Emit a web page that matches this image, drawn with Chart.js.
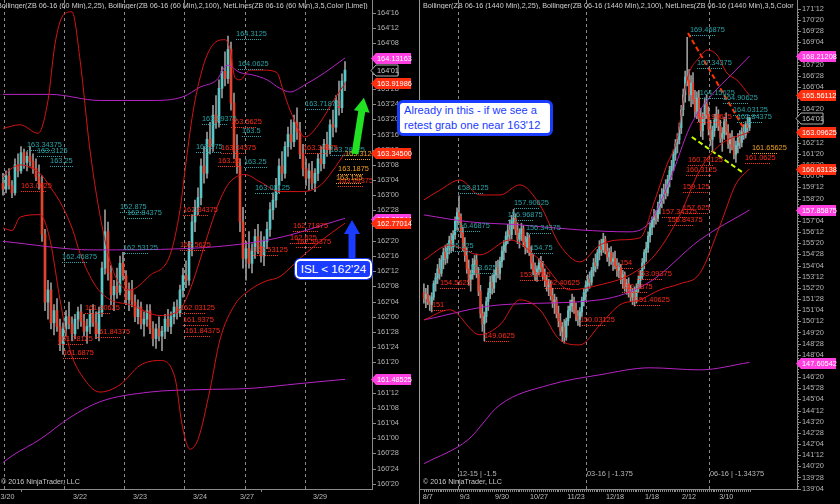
<!DOCTYPE html>
<html>
<head>
<meta charset="utf-8">
<script src="https://cdn.jsdelivr.net/npm/chart.js@4.4.1/dist/chart.umd.min.js"></script>
<style>
  html, body { margin: 0; padding: 0; background: #000; }
  body { width: 840px; height: 504px; position: relative; overflow: hidden; font-family: 'Liberation Sans', Arial, sans-serif; }
  canvas { position: absolute; top: 0; }
  #leftChart { left: 0; }
  #rightChart { left: 420px; }
  .txt { position: absolute; white-space: nowrap; color: #c8c8c8; line-height: 1; }
  .clip { position: absolute; overflow: hidden; white-space: nowrap; color: #d0d0d0; line-height: 1; }
  #sep { position: absolute; left: 419px; top: 0; width: 1px; height: 504px; background: #9a9a9a; }
  #note1 { position: absolute; left: 397px; top: 100px; width: 146px; height: 30px; border: 3px solid #1a3cff; border-radius: 6px; background: #fff; color: #1a3cff; padding: 0 0 0 4px; line-height: 15px; white-space: nowrap; z-index: 5; }
  #note2 { position: absolute; left: 295px; top: 259px; width: 73px; height: 16px; border: 2px solid #fff; outline: 1px solid #1a3cff; border-radius: 5px; background: #1a3cff; color: #fff; text-align: center; line-height: 16px; white-space: nowrap; z-index: 5; }
  svg { position: absolute; left: 0; top: 0; z-index: 4; }
</style>
</head>
<body>
<canvas id="leftChart" width="419" height="504"></canvas>
<canvas id="rightChart" width="420" height="504"></canvas>
<div id="sep"></div>
<div class="clip" id="hdrL" style="left:-3px; top:2px; width:375px;">Bollinger(ZB 06-16 (60 Min),2,25), Bollinger(ZB 06-16 (60 Min),2,100), NetLines(ZB 06-16 (60 Min),3,5,Color [Lime])</div>
<div class="clip" id="hdrR" style="left:423px; top:2px; width:373px;">Bollinger(ZB 06-16 (1440 Min),2,25), Bollinger(ZB 06-16 (1440 Min),2,100), NetLines(ZB 06-16 (1440 Min),3,5,Color [Lime])</div>
<div class="txt copy" style="left:1px; top:479px;">© 2016 NinjaTrader, LLC</div>
<div class="txt copy" style="left:423px; top:479px;">© 2016 NinjaTrader, LLC</div>
<div class="txt roll" style="left:459px; top:470px;">12-15 | -1.5</div>
<div class="txt roll" style="left:587px; top:470px;">03-16 | -1.375</div>
<div class="txt roll" style="left:710px; top:470px;">06-16 | -1.34375</div>
<svg width="840" height="504">
  <g transform="translate(355,154) rotate(9)">
    <rect x="-3.5" y="-44" width="7" height="44" fill="#22e022"/>
    <polygon points="-8,-43 8,-43 0,-57" fill="#22e022"/>
  </g>
  <g transform="translate(352,260)">
    <rect x="-3.5" y="-27" width="7" height="27" fill="#1a3cff"/>
    <polygon points="-8,-26 8,-26 0,-40" fill="#1a3cff"/>
  </g>
</svg>
<div id="note1">Already in this - if we see a<br>retest grab one near 163'12</div>
<div id="note2">ISL &lt; 162'24</div>
<script>
// ZB 06-16, 60 min bars (left) : [open, high, low, close]
const leftOHLC = [
  [163.10,163.18,163.00,163.05],[163.05,163.20,163.02,163.16],[163.16,163.22,163.05,163.08],[163.08,163.12,162.98,163.02],
  [163.02,163.30,163.00,163.25],[163.25,163.34,163.15,163.20],[163.20,163.40,163.18,163.35],[163.35,163.38,163.22,163.27],
  [163.27,163.36,163.20,163.32],[163.32,163.40,163.24,163.28],[163.28,163.34,163.18,163.22],[163.22,163.30,163.12,163.15],
  [163.15,163.25,163.05,163.10],[163.10,163.16,162.62,162.68],[162.68,162.72,162.05,162.12],[162.12,162.30,161.98,162.22],
  [162.22,162.28,161.90,161.95],[161.95,162.10,161.85,162.05],[162.05,162.15,161.88,161.92],[161.92,161.98,161.72,161.78],
  [161.78,161.95,161.69,161.90],[161.90,162.05,161.84,162.00],[162.00,162.12,161.90,161.94],[161.94,162.00,161.80,161.86],
  [161.86,162.02,161.82,161.98],[161.98,162.08,161.90,162.04],[162.04,162.10,161.92,161.96],[161.96,162.02,161.84,161.88],
  [161.88,161.98,161.78,161.92],[161.92,162.06,161.86,162.02],[162.02,162.10,161.92,161.95],[161.95,162.04,161.82,161.86],
  [161.86,162.08,161.80,162.04],[162.04,162.45,162.00,162.40],[162.40,162.88,162.35,162.70],[162.70,162.78,162.30,162.36],
  [162.36,162.42,162.10,162.18],[162.18,162.30,162.05,162.25],[162.25,162.40,162.15,162.20],[162.20,162.50,162.18,162.44],
  [162.44,162.53,162.30,162.34],[162.34,162.38,162.10,162.14],[162.14,162.28,162.05,162.22],[162.22,162.30,162.08,162.12],
  [162.12,162.18,161.96,162.00],[162.00,162.14,161.94,162.08],[162.08,162.12,161.90,161.94],[161.94,162.04,161.84,161.98],
  [161.98,162.10,161.92,162.05],[162.05,162.10,161.86,161.90],[161.90,161.96,161.76,161.82],[161.82,161.94,161.74,161.90],
  [161.90,162.00,161.80,161.84],[161.84,161.92,161.72,161.88],[161.88,162.02,161.82,161.98],[161.98,162.06,161.88,161.92],
  [161.92,162.04,161.86,162.00],[162.00,162.12,161.94,162.08],[162.08,162.14,161.98,162.03],[162.03,162.26,162.00,162.22],
  [162.22,162.40,162.16,162.34],[162.34,162.46,162.24,162.30],[162.30,162.62,162.26,162.56],[162.56,162.84,162.50,162.78],
  [162.78,162.96,162.70,162.90],[162.90,163.06,162.84,162.98],[162.98,163.30,162.92,163.24],[163.24,163.40,163.10,163.18],
  [163.18,163.52,163.14,163.46],[163.46,163.60,163.34,163.40],[163.40,163.74,163.36,163.66],[163.66,163.82,163.55,163.60],
  [163.60,163.95,163.56,163.88],[163.88,164.06,163.80,164.02],[164.02,164.18,163.90,163.96],[163.96,164.31,163.92,164.20],
  [164.20,164.26,163.70,163.76],[163.76,163.84,163.30,163.36],[163.36,163.50,163.18,163.24],[163.24,163.30,162.70,162.78],
  [162.78,162.90,162.40,162.48],[162.48,162.62,162.30,162.56],[162.56,162.70,162.40,162.44],[162.44,162.60,162.36,162.54],
  [162.54,162.72,162.48,162.66],[162.66,162.76,162.52,162.58],[162.58,162.70,162.45,162.50],[162.50,162.66,162.42,162.62],
  [162.62,162.78,162.56,162.72],[162.72,162.94,162.66,162.88],[162.88,163.02,162.80,162.96],[162.96,163.14,162.90,163.08],
  [163.08,163.30,163.02,163.24],[163.24,163.36,163.12,163.18],[163.18,163.44,163.14,163.40],[163.40,163.56,163.32,163.50],
  [163.50,163.62,163.38,163.44],[163.44,163.66,163.40,163.60],[163.60,163.72,163.46,163.52],[163.52,163.60,163.30,163.34],
  [163.34,163.42,163.16,163.22],[163.22,163.30,163.08,163.14],[163.14,163.26,163.04,163.20],[163.20,163.28,163.05,163.10],
  [163.10,163.22,163.03,163.18],[163.18,163.34,163.12,163.30],[163.30,163.40,163.20,163.26],[163.26,163.46,163.22,163.42],
  [163.42,163.52,163.32,163.38],[163.38,163.62,163.34,163.58],[163.58,163.70,163.48,163.56],[163.56,163.82,163.52,163.78],
  [163.78,163.94,163.66,163.72],[163.72,164.00,163.68,163.94],[163.94,164.10,163.86,164.03]
];

// ZB 06-16, daily bars (right) : [open, high, low, close]
const rightOHLC = [
  [152.3,152.9,151.6,151.9],[151.9,152.6,151.3,152.2],[152.2,152.8,151.5,151.7],[151.7,152.1,151.1,151.5],
  [151.5,152.3,151.0,152.0],[152.0,153.1,151.8,152.9],[152.9,153.6,152.4,153.3],[153.3,154.2,152.9,153.9],
  [153.9,154.6,153.2,153.6],[153.6,154.8,153.4,154.5],[154.5,155.3,153.9,155.0],[155.0,155.5,154.2,154.6],
  [154.6,155.6,154.3,155.3],[155.3,156.1,154.9,155.8],[155.8,156.3,155.0,155.4],[155.4,156.47,155.1,156.2],
  [156.2,157.4,155.9,157.1],[157.1,158.0,156.5,157.7],[157.7,158.81,157.0,157.4],[157.4,157.6,156.0,156.3],
  [156.3,156.7,155.1,155.4],[155.4,156.0,154.4,154.8],[154.8,155.3,153.6,153.9],[153.9,154.5,152.8,153.2],
  [153.2,153.8,152.4,153.5],[153.5,154.6,153.2,154.2],[154.2,154.8,153.5,154.5],[154.5,154.9,153.3,153.6],
  [153.6,154.0,152.1,152.4],[152.4,152.8,150.6,150.9],[150.9,151.5,149.7,150.2],[150.2,151.0,149.06,150.7],
  [150.7,152.0,150.3,151.7],[151.7,152.6,151.1,152.3],[152.3,153.4,151.9,153.0],[153.0,153.5,152.2,152.6],
  [152.6,153.8,152.3,153.5],[153.5,154.4,153.0,154.0],[154.0,154.5,153.3,153.6],[153.6,154.7,153.2,154.4],
  [154.4,155.4,154.0,155.1],[155.1,155.8,154.5,155.5],[155.5,156.4,155.0,156.1],[156.1,156.9,155.6,156.5],
  [156.5,157.2,155.8,156.2],[156.2,157.5,155.9,157.1],[157.1,157.9,156.6,157.3],[157.3,157.6,156.2,156.5],
  [156.5,157.0,155.6,155.9],[155.9,156.6,155.3,156.3],[156.3,156.97,155.8,156.6],[156.6,156.8,155.4,155.7],
  [155.7,156.1,154.9,155.3],[155.3,156.34,155.0,156.0],[156.0,156.2,154.8,155.0],[155.0,155.4,153.9,154.3],
  [154.3,154.9,153.5,153.8],[153.8,154.3,153.1,153.6],[153.6,154.1,153.06,153.9],[153.9,154.6,153.5,154.3],
  [154.3,154.75,153.7,154.0],[154.0,154.4,153.2,153.4],[153.4,153.9,152.7,153.1],[153.1,153.5,152.4,152.7],
  [152.7,153.2,152.1,152.9],[152.9,153.1,151.8,152.1],[152.1,152.6,151.3,151.6],[151.6,152.2,150.9,151.8],
  [151.8,152.0,150.6,150.9],[150.9,151.4,150.0,150.4],[150.4,150.9,149.4,149.7],[149.7,150.3,149.0,150.0],
  [150.0,150.5,148.9,149.3],[149.3,150.6,149.1,150.4],[150.4,151.4,150.1,151.1],[151.1,151.8,150.6,151.4],
  [151.4,152.2,151.0,151.8],[151.8,152.0,150.9,151.2],[151.2,151.6,150.4,150.7],[150.7,151.1,150.1,150.5],
  [150.5,151.3,150.03,151.0],[151.0,152.0,150.7,151.8],[151.8,152.6,151.4,152.3],[152.3,153.1,151.8,152.8],
  [152.8,153.5,152.4,153.2],[153.2,153.7,152.6,153.0],[153.0,154.0,152.8,153.8],[153.8,154.6,153.4,154.3],
  [154.3,154.9,153.7,154.1],[154.1,155.2,153.9,155.0],[155.0,155.8,154.5,155.4],[155.4,155.9,154.8,155.2],
  [155.2,156.3,155.0,155.9],[155.9,156.1,154.9,155.1],[155.1,155.6,154.4,154.7],[154.7,155.3,154.1,155.0],
  [155.0,155.4,154.2,154.4],[154.4,155.0,153.8,154.6],[154.6,155.1,153.9,154.1],[154.1,154.6,153.4,153.8],
  [153.8,154.3,153.3,154.0],[154.0,154.2,152.9,153.2],[153.2,153.8,152.6,153.5],[153.5,153.7,152.4,152.7],
  [152.7,153.2,152.19,152.9],[152.9,153.3,152.0,152.3],[152.3,152.8,151.7,152.0],[152.0,152.6,151.5,152.4],
  [152.4,152.7,151.41,151.8],[151.8,152.9,151.6,152.6],[152.6,153.4,152.3,153.1],[153.1,153.8,152.6,153.4],
  [153.4,154.6,153.2,154.3],[154.3,155.2,153.9,155.0],[155.0,155.7,154.4,155.3],[155.3,156.4,155.0,156.1],
  [156.1,157.0,155.7,156.7],[156.7,157.4,156.2,157.2],[157.2,157.9,156.7,157.5],[157.5,157.8,156.9,157.3],
  [157.3,158.4,157.1,158.1],[158.1,158.9,157.6,158.5],[158.5,159.3,158.0,158.9],[158.9,159.6,158.3,159.2],
  [159.2,159.9,158.6,159.0],[159.0,160.2,158.8,159.9],[159.9,160.8,159.4,160.5],[160.5,161.2,159.9,160.8],
  [160.8,161.9,160.5,161.6],[161.6,162.6,161.2,162.3],[162.3,163.0,161.7,162.6],[162.6,163.7,162.3,163.4],
  [163.4,164.9,163.0,164.6],[164.6,166.0,164.2,165.6],[165.6,167.2,165.1,166.8],[166.8,169.47,166.2,166.6],
  [166.6,167.3,165.2,165.6],[165.6,166.9,164.8,166.4],[166.4,167.1,165.0,165.3],[165.3,165.9,164.1,164.5],
  [164.5,165.8,164.0,165.4],[165.4,165.9,163.8,164.1],[164.1,164.7,162.8,163.2],[163.2,164.4,162.6,164.0],
  [164.0,165.4,163.6,165.0],[165.0,165.6,164.0,164.3],[164.3,164.8,162.9,163.3],[163.3,163.9,162.2,162.6],
  [162.6,163.5,161.9,163.2],[163.2,164.3,162.8,163.9],[163.9,164.8,163.4,164.3],[164.3,164.6,163.2,163.5],
  [163.5,163.9,162.4,162.7],[162.7,163.4,161.8,163.0],[163.0,164.1,162.6,163.8],[163.8,164.4,162.9,163.1],
  [163.1,163.6,162.0,162.3],[162.3,163.0,161.7,162.6],[162.6,163.2,161.9,162.1],[162.1,162.8,161.3,161.6],
  [161.6,162.5,161.06,162.2],[162.2,163.0,161.7,162.7],[162.7,163.2,162.0,162.4],[162.4,163.4,162.1,163.1],
  [163.1,163.6,162.6,162.9],[162.9,163.8,162.7,163.6],[163.6,164.1,163.1,163.4],[163.4,164.1,163.2,164.03]
];

// Bollinger bands as [bar index, price]
const leftBB25Upper = [[0,163.55],[5.7,163.58],[11.7,163.51],[15,163.78],[17.3,164.24],[20,164.48],[23,164.51],[25.7,164.11],[29,163.37],[33.3,162.71],[37.3,162.34],[42.3,162.22],[49,162.34],[55.7,162.51],[59,162.88],[60.7,163.21],[63.3,163.68],[66.7,164.06],[70,164.24],[74,164.28],[75.7,164.2],[77.3,163.97],[79,163.95],[82.3,164.03],[86.7,164.03],[91.3,164.01],[93.3,163.87],[95.7,163.7],[100.7,163.48],[105.7,163.6],[110.7,163.8],[114,163.92]];
const leftBB25Mid = [[0,163.15],[2.3,163.21],[5.7,163.25],[9,163.23],[12.3,163.18],[15.7,163.07],[20,162.90],[23.3,162.71],[25.7,162.52],[30.7,162.26],[35.7,162.14],[42.3,162.10],[52.3,162.01],[59,162.06],[62.3,162.22],[65.7,162.47],[69,162.73],[72.3,162.96],[75.7,163.11],[80.7,163.17],[85.7,163.11],[92.3,163.03],[99,163.03],[105.7,163.08],[114,163.345]];
const leftBB25Lower = [[0,162.73],[3,162.71],[5.7,162.82],[12.3,162.84],[15.7,162.63],[19,162.14],[22.3,161.73],[27.3,161.48],[32.3,161.38],[39,161.44],[45.7,161.60],[52.3,161.64],[57.3,161.50],[59.7,161.11],[62.3,160.91],[65,160.99],[69,161.40],[72.3,161.81],[77.3,162.10],[82.3,162.22],[87.3,162.29],[92.3,162.33],[99,162.48],[105.7,162.62],[114,162.77]];
const leftBB100Upper = [[0,163.83],[15.7,163.83],[32.3,163.78],[49,163.78],[60,163.81],[65.7,163.89],[71.3,163.95],[74.7,164.07],[79,164.01],[83.3,163.99],[88,163.95],[92.3,163.88],[95.7,163.85],[100.7,163.91],[107.3,164.01],[114,164.13]];
const leftBB100Mid = [[0,162.62],[30,162.55],[60,162.56],[90,162.64],[114,162.81]];
const leftBB100Lower = [[0,160.80],[3.3,160.86],[12.3,160.99],[22.3,161.17],[32.3,161.30],[49,161.38],[65.7,161.40],[82.3,161.41],[99,161.45],[114,161.485]];

const rightBB25Upper = [[0,158.54],[8.2,159.2],[18.5,159.88],[28.7,158.87],[39,158.87],[49.2,159.55],[59.5,158.2],[69.7,155.51],[80,154.37],[90.3,155.51],[100.5,155.85],[110.8,155.99],[118.5,158.54],[124.6,160.89],[129.7,162.57],[134.9,166.6],[141.5,168.15],[145.6,168.62],[150.3,168.28],[155.4,167.07],[160.5,166.6],[167,165.56]];
const rightBB25Mid = [[0,154.5],[13.3,155.51],[28.7,154.84],[44.1,155.85],[59.5,154.5],[74.9,152.49],[90.3,152.83],[105.6,153.5],[118.5,154.84],[131.3,157.53],[141.5,160.55],[151.8,162.24],[167,163.1]];
const rightBB25Lower = [[0,150.47],[13.3,151.15],[28.7,149.47],[39,150.14],[49.2,151.82],[59.5,151.15],[69.7,149.13],[80,148.79],[90.3,150.14],[100.5,151.48],[110.8,151.82],[121,152.49],[131.3,152.9],[141.5,153.6],[151.8,156.8],[160,159.6],[167,160.63]];
const rightBB100Upper = [[0,157.53],[23.6,157.06],[49.2,156.86],[80,156.52],[105.6,156.39],[115.9,157.06],[126.2,159.88],[136.4,163.44],[146.7,165.46],[158.5,167.07],[167,168.21]];
const rightBB100Mid = [[0,150.47],[39,151.48],[90.3,151.82],[115.9,153.03],[141.5,155.85],[167,157.86]];
const rightBB100Lower = [[0,140.8],[22.6,142.41],[39,144.76],[64.6,146.11],[90.3,146.78],[115.9,147.25],[141.5,147.11],[167,147.61]];

// NetLines (right panel)
const rightNetRed = [[135.4,169.76],[163.6,163.45]];
const rightNetLime = [[137.4,162.77],[163.1,160.42]];

// axes
const leftDateTicks = [1.5, 25.7, 45.7, 65.7, 81.3, 105.7];
const leftDateLabels = ['3/20', '3/22', '3/23', '3/24', '3/27', '3/29'];
const leftSessions = [0.33, 20.3, 40.3, 60.3, 80.7, 100.7];
const rightDateTicks = [2, 21, 40, 59, 78, 98, 117, 136, 155];
const rightDateLabels = ['8/7', '9/3', '9/30', '10/27', '11/23', '12/18', '1/18', '2/12', '3/10'];
const rightSessions = [17.4, 83.1, 146.2];
const leftPriceLabels = ["164'16","164'12","164'08","164'04","164'00","163'28","163'24","163'20","163'16","163'12","163'08","163'04","163'00","162'28","162'24","162'20","162'16","162'12","162'08","162'04","162'00","161'28","161'24","161'20","161'16","161'12","161'08","161'04","161'00","160'28","160'24","160'20"];
const rightPriceLabels = ["171'12","170'20","169'28","169'04","168'12","167'20","166'28","166'04","165'12","164'20","163'28","163'04","162'12","161'20","160'28","160'04","159'12","158'20","157'28","157'04","156'12","155'20","154'28","154'04","153'12","152'20","151'28","151'04","150'12","149'20","148'28","148'04","147'12","146'20","145'28","145'04","144'12","143'20","142'28","142'04","141'12","140'20","139'28","139'04"];

// price markers on the axis: [value, text, kind]
const leftTags = [[164.13163,'164.13163','pink'],[164.03125,"164'01",'last'],[163.91986,'163.91986','red'],[163.345,'163.34500','red'],[162.80844,'162.80844','pink'],[162.77014,'162.77014','red'],[161.48525,'161.48525','pink']];
const rightTags = [[168.21208,'168.21208','pink'],[165.56112,'165.56112','red'],[164.03125,"164'01",'last'],[163.09625,'163.09625','red'],[160.63138,'160.63138','red'],[157.85875,'157.85875','pink'],[147.60542,'147.60542','pink']];

// swing labels: [bar index, price, text, colour]
const leftSwings = [
  [8,163.40,'163.34375','t'],[11.3,163.35,'163.3125','t'],[15.7,163.265,'163.25','t'],[77.7,164.31,'164.3125','t'],
  [78.3,164.064,'164.0625','t'],[66.3,163.61,'163.59375','t'],[79.7,163.51,'163.5','t'],[64.3,163.38,'163.375','t'],
  [80.3,163.257,'163.25','t'],[84,163.04,'163.03125','t'],[100.7,163.735,'163.71875','t'],[39,162.887,'162.875','t'],
  [41.3,162.84,'162.84375','t'],[40,162.55,'162.53125','t'],[19.7,162.475,'162.46875','t'],[109,163.356,'163.28125','t'],
  [6,163.06,'163.0625','r'],[76,163.586,'163.5625','r'],[72.7,163.37,'163.34375','r'],[71.7,163.265,'163.25','r'],
  [60,162.86,'162.84375','r'],[59,162.574,'162.5625','r'],[100,163.37,'163.34375','r'],[96.7,162.73,'162.71875','r'],
  [95.7,162.63,'162.625','r'],[97.7,162.60,'162.59375','r'],[83.3,162.53,'162.53125','r'],[59,162.056,'162.03125','r'],
  [60,161.957,'161.9375','r'],[60.7,161.866,'161.84375','r'],[27.3,162.056,'161.90625','r'],[30.7,161.858,'161.84375','r'],
  [18.3,161.80,'161.78125','r'],[20,161.685,'161.6875','r'],[111.7,163.10,'163.09375','r'],
  [114,163.323,'163.3125','o'],[111.7,163.20,'163.1875','o'],[111,163.126,'163.125','o']
];
const rightSwings = [
  [136.4,169.83,'169.46875','t'],[140,167.61,'167.34375','t'],[141.5,165.6,'164.15625','t'],[153.3,165.26,'164.90625','t'],
  [158.5,164.45,'164.03125','t'],[160.5,164.0,'163.84375','t'],[17.4,159.21,'158.8125','t'],[46.2,158.2,'157.90625','t'],
  [43,157.4,'156.96875','t'],[15.9,156.66,'156.46875','t'],[52.3,156.52,'156.34375','t'],[11.8,155.31,'155.125','t'],
  [54.4,155.18,'154.75','t'],[23.6,153.83,'153.625','t'],
  [164.6,161.23,'161.0625','r'],[135.4,161.09,'160.78125','r'],[134.4,160.42,'160.3125','r'],[132.8,159.28,'159.125','r'],
  [132.8,157.87,'157.625','r'],[122,157.6,'157.34375','r'],[125,157.06,'156.84375','r'],[140,163.98,'163.90625','r'],
  [8.2,152.8,'154.5625','r'],[4.1,151.35,'151','r'],[30.8,149.26,'149.0625','r'],[62,152.83,'152.40625','r'],
  [80,150.34,'150.03125','r'],[100.5,154.17,'154','r'],[109.2,153.43,'153.09375','r'],[101.5,152.56,'152.1875','r'],
  [108.2,151.68,'151.40625','r'],[49.2,153.36,'153.0625','r'],
  [168.2,161.9,'161.65625','o']
];

const FONT = "'Liberation Sans', Arial, sans-serif";
const UP = '#5cc6c6', DOWN = '#e2452f', WICK = '#9a9a9a';
const RED = '#d41414', MAGENTA = '#b524c4';
const SWING = { t: '#2aa3a6', r: '#ff2a18', o: '#f0a020' };
const TAG = { pink: '#ff3fe0', red: '#ff2e0e' };
const AXIS = '#8a8a8a';

const fromTick = s => { const [a, b] = s.split("'"); return +a + (+b) / 32; };

function overlay(o) {
  return {
    id: 'overlay',
    beforeDatasetsDraw(chart) {
      const { ctx, chartArea: a, scales: { x } } = chart;
      ctx.save();
      ctx.strokeStyle = AXIS;
      ctx.lineWidth = 1;
      ctx.setLineDash([3, 3]);
      o.sessions.forEach(v => {
        const px = Math.round(x.getPixelForValue(v)) + 0.5;
        ctx.beginPath(); ctx.moveTo(px, a.top); ctx.lineTo(px, a.bottom); ctx.stroke();
      });
      ctx.restore();
    },
    afterDatasetsDraw(chart) {
      const { ctx, chartArea: a, scales: { x, y } } = chart;
      ctx.save();
      ctx.beginPath(); ctx.rect(a.left, a.top, a.right - a.left, a.bottom - a.top); ctx.clip();
      ctx.font = '7.4px ' + FONT;
      ctx.textBaseline = 'alphabetic';
      o.swings.forEach(s => {
        const px = x.getPixelForValue(s[0]), py = y.getPixelForValue(s[1]);
        ctx.fillStyle = SWING[s[3]];
        ctx.fillText(s[2], px, py);
        const w = Math.min(ctx.measureText(s[2]).width, 26);
        for (let k = 0; k < w; k += 2) ctx.fillRect(Math.round(px + k), Math.round(py + 3), 1, 1);
      });
      ctx.restore();
    },
    afterDraw(chart) {
      const { ctx, chartArea: a, scales: { x, y } } = chart;
      ctx.save();
      // tick marks on both axes
      ctx.fillStyle = AXIS;
      o.xMarks().forEach(v => ctx.fillRect(Math.round(x.getPixelForValue(v)), a.bottom, 1, 3));
      o.yTicks().forEach(v => {
        const py = Math.round(y.getPixelForValue(v));
        const major = o.priceSet.has(v.toFixed(4));
        ctx.fillRect(a.right, py, major ? 4 : 2, 1);
      });
      ctx.font = '7.4px ' + FONT;
      ctx.textBaseline = 'middle';
      o.tags.forEach(t => {
        const py = Math.round(y.getPixelForValue(t[0])) + 0.5;
        const x0 = a.right - 1, h = 11;
        const w = t[2] === 'last' ? 27 : o.tagW;
        ctx.beginPath();
        ctx.moveTo(x0, py);
        ctx.lineTo(x0 + 5, py - h / 2);
        ctx.lineTo(x0 + w, py - h / 2);
        ctx.lineTo(x0 + w, py + h / 2);
        ctx.lineTo(x0 + 5, py + h / 2);
        ctx.closePath();
        if (t[2] === 'last') {
          ctx.fillStyle = '#000'; ctx.fill();
          ctx.strokeStyle = '#b0b0b0'; ctx.lineWidth = 1; ctx.stroke();
          ctx.fillStyle = '#c8c8c8';
        } else {
          ctx.fillStyle = TAG[t[2]]; ctx.fill();
          ctx.fillStyle = '#fff';
        }
        ctx.fillText(t[1], x0 + 6, py + 0.5);
      });
      ctx.restore();
    }
  };
}

function candleChart(id, o) {
  const wicks = o.ohlc.map((c, i) => ({ x: i, y: [c[2], c[1]] }));
  const bodies = o.ohlc.map((c, i) => ({ x: i, y: [c[0], c[3]] }));
  const bodyColors = o.ohlc.map(c => (c[3] >= c[0] ? UP : DOWN));
  const line = (pts, color, extra) => Object.assign({
    type: 'line', data: pts.map(p => ({ x: p[0], y: p[1] })),
    borderColor: color, borderWidth: 1, pointRadius: 0,
    cubicInterpolationMode: 'monotone', order: 0
  }, extra || {});

  const datasets = o.bands.map(b => line(b[0], b[1]));
  o.netLines.forEach(n => datasets.push(line(n[0], n[1], { borderWidth: 2, borderDash: [5, 3] })));
  datasets.push({ type: 'bar', data: bodies, backgroundColor: bodyColors, barThickness: o.bodyW, grouped: false, minBarLength: 1, order: 1 });
  datasets.push({ type: 'bar', data: wicks, backgroundColor: WICK, barThickness: 1, grouped: false, order: 2 });

  const dateMap = new Map(o.dateTicks.map((v, i) => [v, o.dateLabels[i]]));
  const priceMap = new Map(o.priceLabels.map(s => [fromTick(s).toFixed(4), s]));
  o.priceSet = new Set(priceMap.keys());

  return new Chart(document.getElementById(id), {
    type: 'bar',
    data: { datasets },
    plugins: [overlay(o)],
    options: {
      responsive: false,
      animation: false,
      events: [],
      layout: { padding: 0 },
      plugins: { legend: { display: false }, tooltip: { enabled: false } },
      scales: {
        x: {
          type: 'linear', min: o.xMin, max: o.xMax, offset: false,
          afterBuildTicks: ax => { ax.ticks = o.dateTicks.map(v => ({ value: v })); },
          afterFit: ax => { ax.height = 15; ax.paddingLeft = 0; ax.paddingRight = 0; },
          ticks: { autoSkip: false, maxRotation: 0, color: '#bdbdbd', font: { size: 7.2, family: FONT }, padding: 4,
                   callback: v => dateMap.get(v) || '' },
          grid: { drawOnChartArea: false, drawTicks: false, offset: false },
          border: { color: AXIS }
        },
        y: {
          type: 'linear', position: 'right', min: o.yMin, max: o.yMax,
          afterBuildTicks: ax => { ax.ticks = o.priceLabels.map(s => ({ value: fromTick(s) })); },
          afterFit: ax => { ax.width = o.yWidth; ax.paddingTop = 0; ax.paddingBottom = 0; },
          ticks: { autoSkip: false, color: '#b4b4b4', font: { size: 7.4, family: FONT }, padding: 5,
                   callback: v => priceMap.get(v.toFixed(4)) || '' },
          grid: { drawOnChartArea: false, drawTicks: false },
          border: { color: AXIS }
        }
      }
    }
  });
}

candleChart('leftChart', {
  ohlc: leftOHLC, bodyW: 2,
  bands: [[leftBB25Upper, RED], [leftBB25Mid, RED], [leftBB25Lower, RED],
          [leftBB100Upper, MAGENTA], [leftBB100Mid, MAGENTA], [leftBB100Lower, MAGENTA]],
  netLines: [],
  xMin: -1, xMax: 123, yMin: 160.582, yMax: 164.607, yWidth: 47, tagW: 40,
  dateTicks: leftDateTicks, dateLabels: leftDateLabels, sessions: leftSessions,
  priceLabels: leftPriceLabels,
  xMarks: () => [6, 86],
  yTicks: () => leftPriceLabels.map(fromTick),
  tags: leftTags, swings: leftSwings
});

candleChart('rightChart', {
  ohlc: rightOHLC, bodyW: 1.5,
  bands: [[rightBB25Upper, RED], [rightBB25Mid, RED], [rightBB25Lower, RED],
          [rightBB100Upper, MAGENTA], [rightBB100Mid, MAGENTA], [rightBB100Lower, MAGENTA]],
  netLines: [[rightNetRed, '#ff3300'], [rightNetLime, '#c8ff00']],
  xMin: -2, xMax: 191.33, yMin: 139.1, yMax: 171.98, yWidth: 43, tagW: 40,
  dateTicks: rightDateTicks, dateLabels: rightDateLabels, sessions: rightSessions,
  priceLabels: rightPriceLabels,
  xMarks: () => rightOHLC.map((c, i) => i),
  yTicks: () => {
    const out = [];
    rightPriceLabels.map(fromTick).forEach(v => { for (let k = 0; k < 4; k++) out.push(v - k * 0.1875); });
    return out.filter(v => v >= 139.1);
  },
  tags: rightTags, swings: rightSwings
});

// size the overlay texts to the widths they have in the picture
const measure = document.createElement('canvas').getContext('2d');
function fit(el, width) {
  measure.font = '10px ' + FONT;
  const w = measure.measureText(el.textContent).width;
  el.style.fontSize = (10 * width / w).toFixed(2) + 'px';
}
fit(document.getElementById('hdrL'), 371);
document.getElementById('hdrR').style.fontSize = document.getElementById('hdrL').style.fontSize;
document.querySelectorAll('.copy').forEach(el => fit(el, 79));
document.querySelectorAll('.roll').forEach(el => { el.style.fontSize = '7.4px'; el.style.color = '#b8b8b8'; });
const n1 = document.getElementById('note1');
measure.font = '10px ' + FONT;
n1.style.fontSize = (10 * 133 / measure.measureText('Already in this - if we see a').width).toFixed(2) + 'px';
const n2 = document.getElementById('note2');
n2.style.fontSize = (10 * 66 / measure.measureText("ISL < 162'24").width).toFixed(2) + 'px';
</script>
</body>
</html>
